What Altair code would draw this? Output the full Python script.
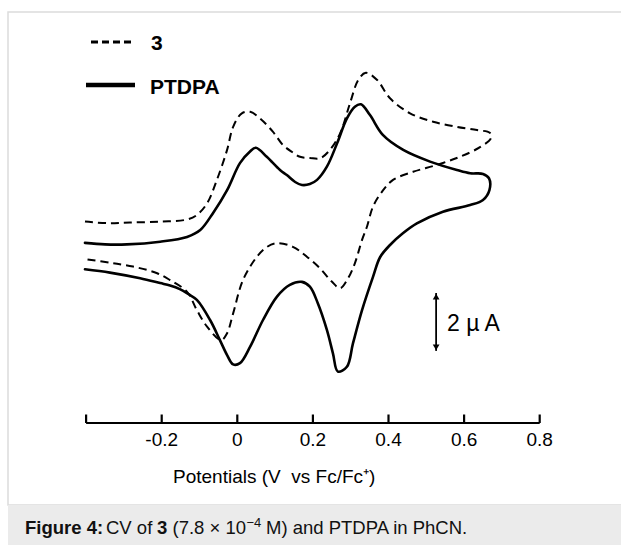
import altair as alt
import pandas as pd

# ---------------- data ----------------
# PTDPA (solid) full CV cycle: potential (V vs Fc/Fc+) and current (uA, arbitrary offset)
ptdpa_v = [-0.403, -0.350, -0.292, -0.204, -0.133, -0.098, -0.064, -0.027, 0.007, 0.033,
           0.049, 0.078, 0.113, 0.131, 0.153, 0.171, 0.192, 0.211, 0.237, 0.264,
           0.290, 0.311, 0.327, 0.351, 0.385, 0.439, 0.510, 0.581, 0.616, 0.650,
           0.666, 0.667, 0.650, 0.616, 0.544, 0.475, 0.438, 0.404, 0.378, 0.359,
           0.330, 0.306, 0.290, 0.266, 0.253, 0.237, 0.213, 0.192, 0.171, 0.139,
           0.105, 0.068, 0.034, 0.007, -0.011, -0.027, -0.046, -0.072, -0.107, -0.130,
           -0.152, -0.178, -0.204, -0.257, -0.337, -0.403]
ptdpa_i = [0.07, 0.02, 0.02, 0.11, 0.27, 0.50, 1.07, 1.83, 2.73, 3.11,
           3.24, 2.94, 2.50, 2.33, 2.10, 2.00, 2.03, 2.17, 2.61, 3.39,
           4.22, 4.61, 4.69, 4.33, 3.67, 3.17, 2.78, 2.50, 2.39, 2.37,
           2.22, 1.83, 1.50, 1.33, 1.11, 0.72, 0.39, 0.00, -0.40, -1.06,
           -2.17, -3.28, -4.06, -4.22, -3.61, -2.83, -1.94, -1.39, -1.23, -1.33,
           -1.72, -2.50, -3.39, -3.94, -3.98, -3.67, -3.17, -2.50, -1.83, -1.63,
           -1.47, -1.35, -1.27, -1.11, -0.92, -0.81]

# compound 3 (dashed) full CV cycle
c3_v = [-0.403, -0.345, -0.284, -0.204, -0.133, -0.107, -0.080, -0.054, -0.027, -0.011,
        0.012, 0.034, 0.060, 0.094, 0.121, 0.145, 0.166, 0.192, 0.219, 0.245,
        0.272, 0.298, 0.320, 0.340, 0.370, 0.404, 0.457, 0.518, 0.581, 0.634,
        0.668, 0.671, 0.642, 0.589, 0.528, 0.465, 0.412, 0.383, 0.359, 0.343,
        0.330, 0.311, 0.293, 0.272, 0.250, 0.219, 0.184, 0.147, 0.105, 0.079,
        0.052, 0.015, -0.011, -0.027, -0.043, -0.080, -0.107, -0.133, -0.178, -0.212,
        -0.276, -0.337, -0.398]
c3_i = [0.78, 0.73, 0.75, 0.78, 0.85, 1.00, 1.39, 2.17, 3.17, 3.94,
        4.39, 4.44, 4.22, 3.78, 3.33, 3.10, 2.94, 2.90, 2.89, 3.17,
        3.72, 4.72, 5.50, 5.74, 5.50, 4.89, 4.39, 4.11, 3.94, 3.83,
        3.74, 3.56, 3.26, 2.94, 2.67, 2.44, 2.17, 1.78, 1.28, 0.61,
        0.17, -0.61, -1.11, -1.44, -1.22, -0.78, -0.39, -0.06, 0.06, -0.06,
        -0.39, -1.17, -2.28, -2.94, -3.17, -2.72, -2.17, -1.56, -1.17, -0.94,
        -0.72, -0.59, -0.48]

tick_values = [-0.4, -0.2, 0.0, 0.2, 0.4, 0.6, 0.8]
tick_labels = ["", "-0.2", "0", "0.2", "0.4", "0.6", "0.8"]
NB = "\u00a0"
axis_title = "Potentials (V" + NB + NB + "vs Fc/Fc\u207a)"
legend_labels = ["3", "PTDPA"]
scale_bar_v = 0.526
scale_bar_i = [-1.60, -3.53]          # 2 uA span
scale_bar_label = "2 \u00b5 A"
caption_bold_1 = "Figure 4:"
caption_text_1 = "CV of"
caption_bold_2 = "3"
caption_text_2 = "(7.8 \u00d7 10"
caption_sup = "\u22124"
caption_text_3 = "M) and PTDPA in PhCN."

FONT = "Liberation Sans"

# ---------------- scales (whole canvas mapped) ----------------
X_SCALE = alt.Scale(domain=[-0.6278, 1.0151], nice=False, zero=False)
Y_SCALE = alt.Scale(domain=[-10.0, 8.1667], nice=False, zero=False)

def xq(field):
    return alt.X(field, type="quantitative", scale=X_SCALE, axis=None)

def yq(field):
    return alt.Y(field, type="quantitative", scale=Y_SCALE, axis=None)

df_ptdpa = pd.DataFrame({"V": ptdpa_v, "I": ptdpa_i, "k": range(len(ptdpa_v))})
df_c3 = pd.DataFrame({"V": c3_v, "I": c3_i, "k": range(len(c3_v))})

one = pd.DataFrame({"a": [0]})

solid = alt.Chart(df_ptdpa).mark_line(
    color="black", strokeWidth=2.6, interpolate="catmull-rom",
    strokeJoin="round", strokeCap="round"
).encode(x=xq("V"), y=yq("I"), order=alt.Order("k:Q"))

dashed = alt.Chart(df_c3).mark_line(
    color="black", strokeWidth=2.0, interpolate="catmull-rom",
    strokeDash=[8, 5]
).encode(x=xq("V"), y=yq("I"), order=alt.Order("k:Q"))

# ---------------- frame and caption box ----------------
frame = alt.Chart(one).mark_rect(
    fillOpacity=0, stroke="#dcdcdc", strokeWidth=1.5
).encode(x=alt.value(8), x2=alt.value(640), y=alt.value(12), y2=alt.value(505))

cap_bg = alt.Chart(one).mark_rect(fill="#ebebeb").encode(
    x=alt.value(8), x2=alt.value(621), y=alt.value(505), y2=alt.value(545))

# ---------------- x axis drawn through the x scale ----------------
axis_df = pd.DataFrame({"x0": [tick_values[0]], "x1": [tick_values[-1]]})
axis_line = alt.Chart(axis_df).mark_rule(color="black", strokeWidth=2.2).encode(
    x=xq("x0"), x2="x1:Q", y=alt.value(423))

ticks_df = pd.DataFrame({"t": tick_values, "lab": tick_labels})
ticks = alt.Chart(ticks_df).mark_rule(color="black", strokeWidth=2.2).encode(
    x=xq("t"), y=alt.value(414.5), y2=alt.value(423))

tick_text = alt.Chart(ticks_df[ticks_df["lab"] != ""]).mark_text(
    font=FONT, fontSize=19, baseline="middle", align="center", color="black"
).encode(x=xq("t"), y=alt.value(440), text="lab:N")

title_df = pd.DataFrame({"s": [axis_title]})
title_text = alt.Chart(title_df).mark_text(
    font=FONT, fontSize=19, baseline="middle", align="left", color="black"
).encode(x=alt.value(173), y=alt.value(477), text="s:N")

# ---------------- scale bar ----------------
bar_df = pd.DataFrame({"v": [scale_bar_v], "i0": [scale_bar_i[0]], "i1": [scale_bar_i[1]]})
bar = alt.Chart(bar_df).mark_rule(color="black", strokeWidth=1.8).encode(
    x=xq("v"), y=yq("i0"), y2="i1:Q")
head_df = pd.DataFrame({
    "v": [scale_bar_v, scale_bar_v],
    "i": [scale_bar_i[0] - 0.12, scale_bar_i[1] + 0.12],
    "shape": ["triangle-up", "triangle-down"],
})
heads = alt.Chart(head_df).mark_point(filled=True, color="black", opacity=1, size=45).encode(
    x=xq("v"), y=yq("i"),
    shape=alt.Shape("shape:N", scale=None, legend=None))
bar_lab_df = pd.DataFrame({"s": [scale_bar_label]})
bar_label = alt.Chart(bar_lab_df).mark_text(
    font=FONT, fontSize=23, baseline="middle", align="left", color="black"
).encode(x=alt.value(447), y=alt.value(324), text="s:N")

# ---------------- legend ----------------
leg_dash = alt.Chart(one).mark_rule(color="black", strokeWidth=3.2, strokeDash=[7, 4]).encode(
    x=alt.value(91), x2=alt.value(131), y=alt.value(42))
leg_solid = alt.Chart(one).mark_rule(color="black", strokeWidth=4.5).encode(
    x=alt.value(86), x2=alt.value(135), y=alt.value(85))
leg_t1 = alt.Chart(pd.DataFrame({"s": [legend_labels[0]]})).mark_text(
    font=FONT, fontSize=21, fontWeight="bold", baseline="middle", align="left", color="black"
).encode(x=alt.value(151), y=alt.value(44), text="s:N")
leg_t2 = alt.Chart(pd.DataFrame({"s": [legend_labels[1]]})).mark_text(
    font=FONT, fontSize=21, fontWeight="bold", baseline="middle", align="left", color="black"
).encode(x=alt.value(150), y=alt.value(88), text="s:N")

# ---------------- caption ----------------
def cap(text, x, y, size=18.5, bold=False):
    return alt.Chart(pd.DataFrame({"s": [text]})).mark_text(
        font=FONT, fontSize=size, fontWeight="bold" if bold else "normal",
        baseline="alphabetic", align="left", color="#111111"
    ).encode(x=alt.value(x), y=alt.value(y), text="s:N")

CAP_Y = 534
cap_layers = [
    cap(caption_bold_1, 25, CAP_Y, bold=True),
    cap(caption_text_1, 106, CAP_Y),
    cap(caption_bold_2, 157, CAP_Y, bold=True),
    cap(caption_text_2, 172.5, CAP_Y),
    cap(caption_sup, 246.5, CAP_Y - 7, size=13),
    cap(caption_text_3, 266, CAP_Y),
]

chart = alt.layer(
    frame, cap_bg, axis_line, ticks, tick_text, title_text,
    dashed, solid, bar, heads, bar_label,
    leg_dash, leg_solid, leg_t1, leg_t2, *cap_layers
).properties(
    width=621, height=545, padding=0,
    autosize=alt.AutoSizeParams(type="none"),
    background="white",
).configure_view(stroke=None)

chart.save("out.html", embed_options={"renderer": "svg", "actions": False})
